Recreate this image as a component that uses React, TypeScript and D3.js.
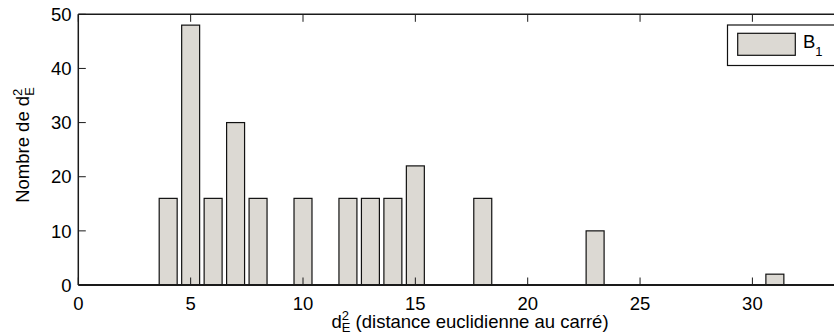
import React from "react";
import * as d3 from "d3";

const distances = [4, 5, 6, 7, 8, 10, 12, 13, 14, 15, 18, 23, 31];
const counts = [16, 48, 16, 30, 16, 16, 16, 16, 16, 22, 16, 10, 2];
const xTicks = [0, 5, 10, 15, 20, 25, 30];
const yTicks = [0, 10, 20, 30, 40, 50];
const legendLabel = "B";
const legendSub = "1";

const W = 834;
const H = 335;
const M = { left: 78.3, top: 14.3, bottom: 285 };
const XMAX = 34;
const FONT = "'Liberation Sans', Arial, Helvetica, sans-serif";
const FILL = "#dcd9d3";
const AX = "#1a1a1a";

export default function App() {
  const x = d3.scaleLinear().domain([0, XMAX]).range([M.left, M.left + XMAX * 22.47]);
  const y = d3.scaleLinear().domain([0, 50]).range([M.bottom, M.top]);
  const right = x(XMAX);
  const bw = x(0.8) - x(0);
  const tl = 7.5;
  const fs = 18.5;
  const ss = 13;
  return (
    <div style={{ position: "fixed", left: 0, top: 0, width: W, height: H, overflow: "hidden", background: "#fff" }}>
      <svg width={W} height={H} style={{ display: "block" }} fontFamily={FONT}>
        <rect x={0} y={0} width={W} height={H} fill="#fff" />
        {/* bars */}
        {distances.map((d, i) => (
          <rect
            key={d}
            x={x(d) - bw / 2}
            y={y(counts[i])}
            width={bw}
            height={y(0) - y(counts[i])}
            fill={FILL}
            stroke="#111"
            strokeWidth={1.2}
          />
        ))}
        {/* axes box */}
        <line x1={M.left} x2={right} y1={M.bottom} y2={M.bottom} stroke={AX} strokeWidth={2} />
        <line x1={M.left} x2={right} y1={M.top} y2={M.top} stroke={AX} strokeWidth={1.5} />
        <line x1={M.left} x2={M.left} y1={M.top} y2={M.bottom} stroke={AX} strokeWidth={1.5} />
        <line x1={right} x2={right} y1={M.top} y2={M.bottom} stroke={AX} strokeWidth={1.5} />
        {/* x ticks */}
        {xTicks.map((t) => (
          <g key={"x" + t}>
            <line x1={x(t)} x2={x(t)} y1={M.bottom} y2={M.bottom - tl} stroke={AX} strokeWidth={1} />
            <line x1={x(t)} x2={x(t)} y1={M.top} y2={M.top + tl} stroke={AX} strokeWidth={1} />
            <text x={x(t)} y={310} textAnchor="middle" fontSize={fs} fill="#000">
              {t}
            </text>
          </g>
        ))}
        {/* y ticks */}
        {yTicks.map((t) => (
          <g key={"y" + t}>
            <line x1={M.left} x2={M.left + tl} y1={y(t)} y2={y(t)} stroke={AX} strokeWidth={1} />
            <line x1={right} x2={right - tl} y1={y(t)} y2={y(t)} stroke={AX} strokeWidth={1} />
            <text x={71.5} y={y(t)} dy="0.36em" textAnchor="end" fontSize={fs} fill="#000">
              {t}
            </text>
          </g>
        ))}
        {/* x label */}
        <text x={470} y={327.5} textAnchor="middle" fontSize={fs} fill="#000">
          d
          <tspan fontSize={ss} dy={-7.5}>2</tspan>
          <tspan fontSize={ss} dx={-7.2} dy={12}>E</tspan>
          <tspan dy={-4.5}> (distance euclidienne au carré)</tspan>
        </text>
        {/* y label */}
        <text transform="translate(29,145) rotate(-90)" textAnchor="middle" fontSize={fs} fill="#000">
          Nombre de d
          <tspan fontSize={ss} dy={-7.5}>2</tspan>
          <tspan fontSize={ss} dx={-7.2} dy={12}>E</tspan>
        </text>
        {/* legend */}
        <rect x={727.5} y={25} width={115} height={40.5} fill="#fff" stroke="#111" strokeWidth={1.2} />
        <rect x={737.7} y={33.3} width={57.6} height={22} fill={FILL} stroke="#111" strokeWidth={1.2} />
        <text x={803} y={48.3} fontSize={fs} fill="#000">
          {legendLabel}
          <tspan fontSize={ss} dy={7.4}>{legendSub}</tspan>
        </text>
      </svg>
    </div>
  );
}
